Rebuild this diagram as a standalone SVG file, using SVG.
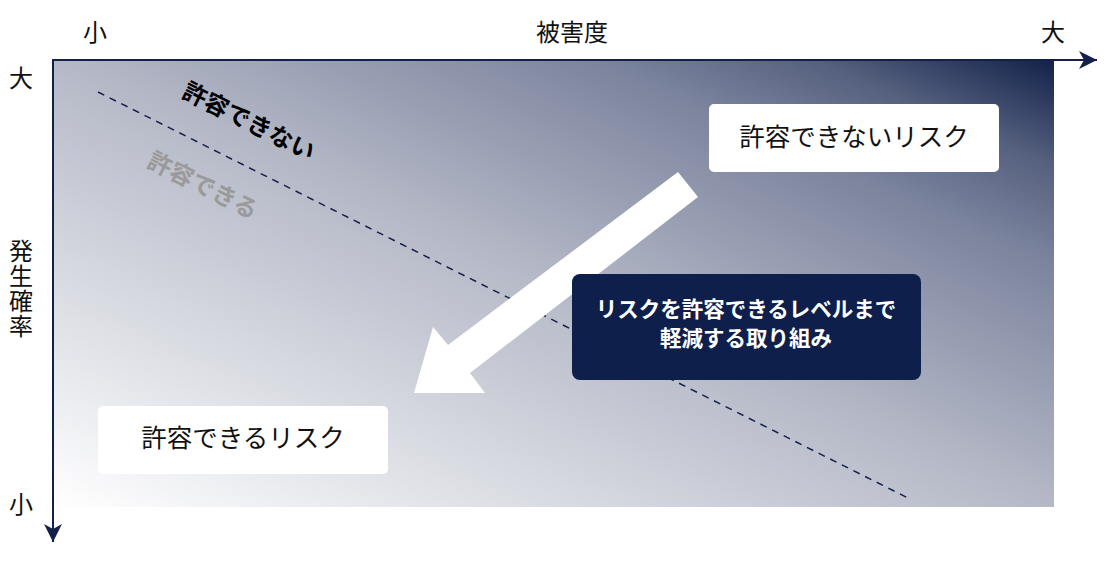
<svg xmlns="http://www.w3.org/2000/svg" width="1115" height="582" viewBox="0 0 1115 582">
<style>
.lbl{font-family:"Noto Sans CJK JP","Noto Sans",sans-serif;font-size:24px;fill:#111;}
.box{fill:#fff;}
.bt{font-family:"Noto Sans CJK JP","Noto Sans",sans-serif;font-size:25.5px;fill:#111;text-anchor:middle;}
.wt{font-family:"Noto Sans CJK JP","Noto Sans",sans-serif;font-size:21.5px;font-weight:bold;fill:#fff;text-anchor:middle;}
.axis{stroke:#13214a;stroke-width:2;fill:none;}
.rot{font-family:"Noto Sans CJK JP",sans-serif;font-size:24px;font-weight:bold;text-anchor:middle;}
</style>
<defs>
<linearGradient id="bg" x1="0" y1="1" x2="1" y2="0">
<stop offset="0" stop-color="#ffffff"/>
<stop offset="0.5" stop-color="#b5b9c7"/>
<stop offset="0.77" stop-color="#7c849e"/>
<stop offset="0.88" stop-color="#56617f"/>
<stop offset="1" stop-color="#13214a"/>
</linearGradient>
<marker id="ah" viewBox="0 0 20 20" refX="18" refY="10" markerWidth="20" markerHeight="20" markerUnits="userSpaceOnUse" orient="auto">
<path d="M0,1 L18,10 L0,19 L5,10 Z" fill="#13214a"/>
</marker>
</defs>
<rect x="53" y="60" width="1001" height="447" fill="url(#bg)"/>
<g id="connectors">
<line class="axis" x1="53" y1="60" x2="1097" y2="60" marker-end="url(#ah)"/>
<line class="axis" x1="53" y1="59" x2="53" y2="542" marker-end="url(#ah)"/>
<line x1="98" y1="92" x2="908" y2="498" stroke="#13214a" stroke-width="1.5" stroke-dasharray="7,6"/>
</g>
<g id="axis-labels">
<text class="lbl" x="95" y="41" text-anchor="middle">小</text>
<text class="lbl" x="572" y="41" text-anchor="middle">被害度</text>
<text class="lbl" x="1053" y="41" text-anchor="middle">大</text>
<text class="lbl" x="21" y="87" text-anchor="middle">大</text>
<text class="lbl" x="21" y="513" text-anchor="middle">小</text>
<text class="lbl" x="21" y="239" writing-mode="vertical-rl" letter-spacing="1">発生確率</text>
</g>
<g id="zone-labels">
<text class="rot" transform="translate(245,129) rotate(26.6)" fill="#000">許容できない</text>
<text class="rot" transform="translate(199,193) rotate(26.6)" fill="#9a9a9a">許容できる</text>
</g>
<g id="arrow">
<polygon points="678,172 698,197 470,373 485,393 414,393 433,327 448,345" fill="#fff"/>
</g>
<g id="node-unacceptable">
<rect class="box" x="709" y="104" width="290" height="68" rx="5"/>
<text class="bt" x="854" y="146">許容できないリスク</text>
</g>
<g id="node-acceptable">
<rect class="box" x="98" y="406" width="290" height="68" rx="5"/>
<text class="bt" x="243" y="447">許容できるリスク</text>
</g>
<g id="node-mitigation">
<rect x="572" y="274" width="349" height="106" rx="8" fill="#0f1f4b"/>
<text class="wt" x="746" y="317">リスクを許容できるレベルまで</text>
<text class="wt" x="746" y="346">軽減する取り組み</text>
</g>
</svg>
